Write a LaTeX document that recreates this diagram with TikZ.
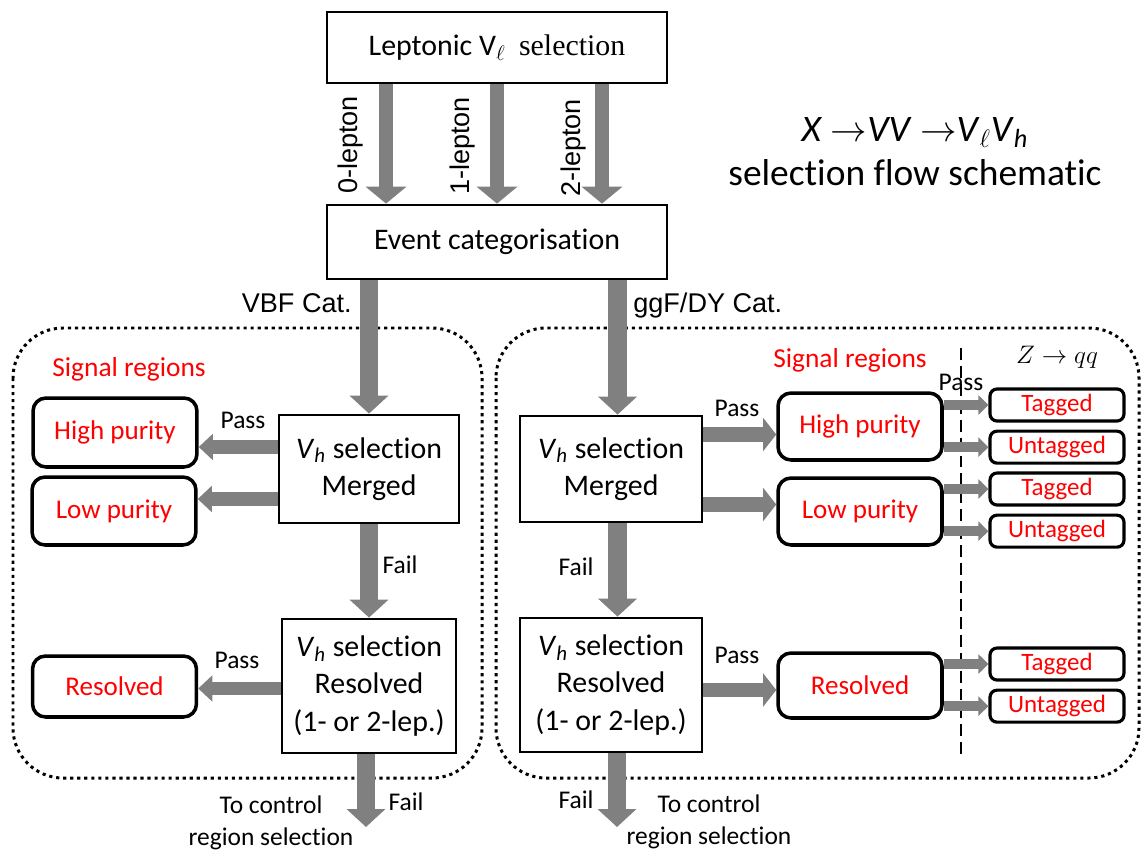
\documentclass[tikz,border=0pt]{standalone}
\usepackage{fontspec}
\setmainfont{Carlito}[Ligatures=NoCommon]
\newfontfamily\arialfont{Liberation Sans}
\newfontfamily\timesfont{Liberation Serif}
\usepackage{tikz}
\usetikzlibrary{arrows.meta, positioning}
\definecolor{flowgray}{RGB}{128,128,128}
\definecolor{srred}{RGB}{255,0,0}
\newcommand{\fsize}[2]{\fontsize{#1}{#2}\selectfont}
\newcommand{\vhsel}{\textit{V}\textsubscript{\textit{h}} selection}
\tikzstyle{selbox} = [
  rectangle,
  draw=black,
  line width=1.6pt,
  align=center,
  inner sep=0,
  font=\fsize{17}{21.3}
]
\tikzstyle{regbox} = [
  rectangle,
  rounded corners=0.26cm,
  draw=black,
  line width=2pt,
  minimum width=3.28cm,
  text=srred,
  inner sep=0,
  font=\fsize{15.4}{18}
]
\tikzstyle{tagbox} = [
  rectangle,
  rounded corners=0.14cm,
  draw=black,
  line width=1.8pt,
  minimum width=2.68cm,
  minimum height=0.64cm,
  text=srred,
  inner sep=0,
  font=\fsize{14.2}{16}
]
\tikzstyle{catregion} = [
  draw=black,
  line width=1.7pt,
  dash pattern=on 1.8pt off 2.2pt,
  rounded corners=1cm
]
\tikzstyle{cutline} = [
  draw=black,
  line width=0.85pt,
  dash pattern=on 6.8pt off 3.4pt
]
\tikzstyle{leparrow} = [
  draw=flowgray,
  line width=8.5pt,
  -{Triangle[width=22.7pt,length=9.6pt]}
]
\tikzstyle{mainarrow} = [
  draw=flowgray,
  line width=10.8pt,
  -{Triangle[width=21.5pt,length=10.2pt]}
]
\tikzstyle{passarrow} = [
  draw=flowgray,
  line width=7.8pt,
  -{Triangle[width=14.5pt,length=8pt]}
]
\tikzstyle{widepass} = [
  draw=flowgray,
  line width=8.5pt,
  -{Triangle[width=18.7pt,length=7.5pt]}
]
\tikzstyle{tagarrow} = [
  draw=flowgray,
  line width=5.7pt,
  -{Triangle[width=10.8pt,length=5.7pt]}
]
\tikzstyle{flowlabel} = [anchor=base, inner sep=0, font=\fsize{14.5}{18.1}]
\tikzstyle{catlabel} = [inner sep=0, font=\arialfont\fsize{15.4}{18}]
\tikzstyle{siglabel} = [inner sep=0, text=srred, font=\fsize{15.6}{18}]

\begin{document}
\begin{tikzpicture}[x=0.02cm, y=-0.02cm]
    \useasboundingbox (0,0) rectangle (1142,852);

    % category regions
    \draw [catregion] (13,328) rectangle (482,778);
    \draw [catregion] (496,328) rectangle (1139,778);
    \draw [cutline] (961,348) -- (961,757);

    \node (lep) [selbox, minimum width=6.8cm, minimum height=1.42cm] at (497,47.5) {Leptonic V\textsubscript{$\ell$}\ \ {\timesfont selection}};
    \node (event) [selbox, minimum width=6.8cm, minimum height=1.48cm] at (497,242) {Event categorisation};
    \node (title) [inner sep=0, align=center, font=\fsize{21.3}{25}] at (915,152) {\textit{X} $\rightarrow$\textit{VV} $\rightarrow$\textit{V}\textsubscript{$\ell$}\textit{V}\textsubscript{\textit{h}}\\selection flow schematic};

    \node (lmerged) [selbox, minimum width=3.6cm, minimum height=2.16cm] at (369,469) {\vhsel\\Merged};
    \node (lresolved) [selbox, minimum width=3.48cm, minimum height=2.68cm] at (369,686) {\vhsel\\Resolved\\(1- or 2-lep.)};
    \node (rmerged) [selbox, minimum width=3.64cm, minimum height=2.12cm] at (611,469) {\vhsel\\Merged};
    \node (rresolved) [selbox, minimum width=3.64cm, minimum height=2.68cm] at (611,685) {\vhsel\\Resolved\\(1- or 2-lep.)};

    \node (lhigh) [regbox, minimum height=1.38cm] at (115,432.5) {High purity};
    \node (llow) [regbox, minimum height=1.36cm] at (114,511) {Low purity};
    \node (lres) [regbox, minimum height=1.22cm] at (114.5,686.5) {Resolved};
    \node (rhigh) [regbox, minimum height=1.34cm] at (860,426.5) {High purity};
    \node (rlow) [regbox, minimum height=1.34cm] at (860,511.5) {Low purity};
    \node (rres) [regbox, minimum height=1.3cm] at (860,685.5) {Resolved};

    \node (tag1) [tagbox] at (1057,405) {Tagged};
    \node (untag1) [tagbox, below=0.14cm of tag1] {Untagged};
    \node (tag2) [tagbox] at (1057,489) {Tagged};
    \node (untag2) [tagbox, below=0.14cm of tag2] {Untagged};
    \node (tag3) [tagbox] at (1057,664) {Tagged};
    \node (untag3) [tagbox, below=0.14cm of tag3] {Untagged};

    \node (zerolep) [catlabel, rotate=90] at (350,145) {0-lepton};
    \node (onelep) [catlabel, rotate=90] at (462,146) {1-lepton};
    \node (twolep) [catlabel, rotate=90] at (573,148) {2-lepton};
    \node (vbf) [catlabel, anchor=base east] at (352,312) {VBF Cat.};
    \node (ggf) [catlabel, anchor=base west] at (633,312) {ggF/DY Cat.};
    \node (lsig) [siglabel, anchor=base west] at (52,376) {Signal regions};
    \node (rsig) [siglabel, anchor=base] at (850,367) {Signal regions};
    \node (zqq) [inner sep=0, anchor=base, font=\fsize{15.5}{18}] at (1057,363) {$Z\rightarrow qq$};

    \node (lpass1) [flowlabel] at (243,428) {Pass};
    \node (rpass1) [flowlabel] at (737,416) {Pass};
    \node (tpass) [flowlabel] at (961,390) {Pass};
    \node (lfail1) [flowlabel] at (400,573) {Fail};
    \node (rfail1) [flowlabel] at (576,575) {Fail};
    \node (lpass2) [flowlabel] at (237,668) {Pass};
    \node (rpass2) [flowlabel] at (737,663) {Pass};
    \node (lfail2) [flowlabel] at (406,810) {Fail};
    \node (rfail2) [flowlabel] at (576,808) {Fail};
    \node (lctrl) [inner sep=0, align=center, font=\fsize{14.5}{18.1}] at (271,823) {To control\\region selection};
    \node (rctrl) [inner sep=0, align=center, font=\fsize{14.5}{18.1}] at (709,822) {To control\\region selection};

    \coordinate (rin) at ([xshift=0.13cm]rmerged.north);
    \coordinate (lout) at (366,827);
    \coordinate (rout) at (617,827);
    \coordinate (lp1) at ([yshift=0.44cm]lmerged.west);
    \coordinate (lp2) at ([yshift=-0.6cm]lmerged.west);
    \coordinate (lp3) at ([yshift=-0.05cm]lresolved.west);
    \coordinate (rp1) at ([yshift=0.69cm]rmerged.east);
    \coordinate (rp2) at ([yshift=-0.71cm]rmerged.east);
    \coordinate (rp3) at ([yshift=-0.1cm]rresolved.east);

    \draw [leparrow] ([xshift=-2.22cm]lep.south) -- ([xshift=-2.22cm]event.north);
    \draw [leparrow] (lep.south) -- (event.north);
    \draw [leparrow] ([xshift=2.1cm]lep.south) -- ([xshift=2.1cm]event.north);

    \draw [mainarrow] (event.south -| lmerged.north) -- (lmerged.north);
    \draw [mainarrow] (lmerged.south) -- (lresolved.north);
    \draw [mainarrow] (lresolved.south -| lout) -- (lout);
    \draw [mainarrow] (event.south -| rin) -- (rin);
    \draw [mainarrow] ([xshift=0.13cm]rmerged.south) -- ([xshift=0.13cm]rresolved.north);
    \draw [mainarrow] (rresolved.south -| rout) -- (rout);

    \draw [passarrow] (lp1) -- (lp1 -| lhigh.east);
    \draw [passarrow] (lp2) -- (lp2 -| llow.east);
    \draw [passarrow] (lp3) -- (lp3 -| lres.east);
    \draw [widepass] (rp1) -- (rp1 -| rhigh.west);
    \draw [widepass] (rp2) -- (rp2 -| rlow.west);
    \draw [widepass] (rp3) -- (rp3 -| rres.west);

    \draw [tagarrow] (rhigh.east |- tag1.west) -- (tag1.west);
    \draw [tagarrow] (rhigh.east |- untag1.west) -- (untag1.west);
    \draw [tagarrow] (rlow.east |- tag2.west) -- (tag2.west);
    \draw [tagarrow] (rlow.east |- untag2.west) -- (untag2.west);
    \draw [tagarrow] (rres.east |- tag3.west) -- (tag3.west);
    \draw [tagarrow] (rres.east |- untag3.west) -- (untag3.west);

\end{tikzpicture}
\end{document}
